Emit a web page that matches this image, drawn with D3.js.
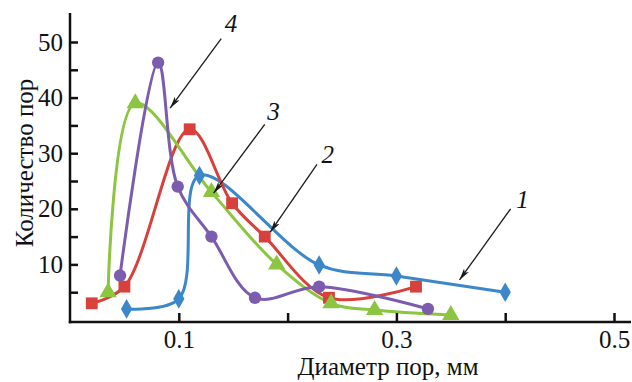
<!DOCTYPE html>
<html>
<head>
<meta charset="utf-8">
<script src="https://cdn.jsdelivr.net/npm/d3@7"></script>
<style>
  body { margin: 0; background: #fff; }
</style>
</head>
<body>
<div class="graph"></div>
<script>
// values
var xTicks = [0.1, 0.2, 0.3, 0.4, 0.5];
var xTickLabels = ["0.1", "", "0.3", "", "0.5"];
var yTicks = [5, 10, 15, 20, 25, 30, 35, 40, 45, 50];
var yTickLabels = ["", "10", "", "20", "", "30", "", "40", "", "50"];

var s1x = [0.052, 0.1, 0.119, 0.229, 0.3, 0.4];
var s1y = [2, 3.8, 26, 9.9, 7.9, 5];
var s2x = [0.02, 0.05, 0.11, 0.149, 0.179, 0.238, 0.318];
var s2y = [3, 6, 34.3, 21, 15, 4, 6];
var s3x = [0.035, 0.06, 0.13, 0.19, 0.24, 0.28, 0.35];
var s3y = [5, 39, 23, 10, 3, 1.8, 0.9];
var s4x = [0.046, 0.081, 0.099, 0.13, 0.17, 0.229, 0.329];
var s4y = [8, 46.3, 24, 15, 4, 6, 2];

var seriesNames = ["1", "2", "3", "4"];
var seriesColors = ["#3b87c9", "#d7403b", "#8cc540", "#7b5cae"];
var seriesSymbols = [d3.symbolDiamond, d3.symbolSquare, d3.symbolTriangle, d3.symbolCircle];

// annotation per series: label position, arrow start, arrow end (data units)
var noteLabel = [[0.416, 20.1], [0.237, 28.2], [0.187, 36], [0.148, 51.8]];
var noteFrom = [[0.405, 20], [0.227, 28], [0.179, 35.2], [0.139, 50.6]];
var noteTo = [[0.358, 7.2], [0.184, 15.8], [0.132, 22.8], [0.092, 38.1]];

var FONT = "Liberation Serif";

var width = 632, height = 382;

var x = d3.scaleLinear().domain([0, 0.5]).range([70, 614]);
var y = d3.scaleLinear().domain([0, 50]).range([320, 42]);

var svg = d3.select("div.graph").append("svg")
    .attr("width", width)
    .attr("height", height);

svg.append("defs").append("marker")
    .attr("id", "arrow")
    .attr("viewBox", "0 0 12 6")
    .attr("refX", 12)
    .attr("refY", 3)
    .attr("markerWidth", 12)
    .attr("markerHeight", 6)
    .attr("markerUnits", "userSpaceOnUse")
    .attr("orient", "auto")
  .append("path")
    .attr("d", "M0,0 L12,3 L0,6 L3,3 Z")
    .attr("fill", "#1a1a1a");

// series lines
var line = d3.line()
    .x(function(d) { return x(d[0]); })
    .y(function(d) { return y(d[1]); })
    .curve(d3.curveCatmullRom.alpha(0.5));

var allX = [s1x, s2x, s3x, s4x];
var allY = [s1y, s2y, s3y, s4y];

var series = seriesNames.map(function(name, i) {
  return { name: name, pts: allX[i].map(function(v, j) { return [v, allY[i][j]]; }) };
});

series.forEach(function(s, i) {
  svg.append("path")
      .datum(s.pts)
      .attr("fill", "none")
      .attr("stroke", seriesColors[i])
      .attr("stroke-width", 3)
      .attr("d", line);
});

var symbolSizes = [110, 140, 130, 120];
series.forEach(function(s, i) {
  svg.selectAll(".m" + i)
    .data(s.pts)
    .enter().append("path")
      .attr("class", "m" + i)
      .attr("transform", function(d) { return "translate(" + x(d[0]) + "," + y(d[1]) + ")"; })
      .attr("d", d3.symbol().type(seriesSymbols[i]).size(symbolSizes[i]))
      .attr("fill", seriesColors[i]);
});

// axes
var yAxis = d3.axisLeft(y)
    .tickValues(yTicks)
    .tickSize(-8)
    .tickPadding(7)
    .tickFormat(function(d, i) { return yTickLabels[i]; });

var xAxis = d3.axisBottom(x)
    .tickValues(xTicks)
    .tickSize(-9)
    .tickPadding(8)
    .tickFormat(function(d, i) { return xTickLabels[i]; });

var gy = svg.append("g").attr("transform", "translate(" + x(0) + ",0)").call(yAxis);
var gx = svg.append("g").attr("transform", "translate(0,322)").call(xAxis);

[gx, gy].forEach(function(g) {
  g.attr("font-family", FONT).attr("font-size", 25);
  g.select(".domain").remove();
  g.selectAll("line").attr("stroke", "#111").attr("stroke-width", 2.5);
  g.selectAll("text").attr("fill", "#111");
});

svg.append("line")
    .attr("x1", x(0)).attr("x2", x(0))
    .attr("y1", 13).attr("y2", 323.2)
    .attr("stroke", "#111").attr("stroke-width", 2.5);
svg.append("line")
    .attr("x1", x(0) - 1.2).attr("x2", 631)
    .attr("y1", 322).attr("y2", 322)
    .attr("stroke", "#111").attr("stroke-width", 2.5);

// axis titles
svg.append("text")
    .attr("x", 388)
    .attr("y", 375)
    .attr("text-anchor", "middle")
    .attr("font-family", FONT)
    .attr("font-size", 25)
    .attr("fill", "#111")
    .text("Диаметр пор, мм");

svg.append("text")
    .attr("transform", "translate(33,163) rotate(-90)")
    .attr("text-anchor", "middle")
    .attr("font-family", FONT)
    .attr("font-size", 25)
    .attr("fill", "#111")
    .text("Количество пор");

// curve labels with arrows
seriesNames.forEach(function(name, i) {
  svg.append("line")
      .attr("x1", x(noteFrom[i][0])).attr("y1", y(noteFrom[i][1]))
      .attr("x2", x(noteTo[i][0])).attr("y2", y(noteTo[i][1]))
      .attr("stroke", "#1a1a1a")
      .attr("stroke-width", 1.3)
      .attr("marker-end", "url(#arrow)");

  svg.append("text")
      .attr("x", x(noteLabel[i][0]))
      .attr("y", y(noteLabel[i][1]))
      .attr("text-anchor", "middle")
      .attr("font-family", FONT)
      .attr("font-size", 25)
      .attr("font-style", "italic")
      .attr("fill", "#111")
      .text(name);
});
</script>
</body>
</html>
